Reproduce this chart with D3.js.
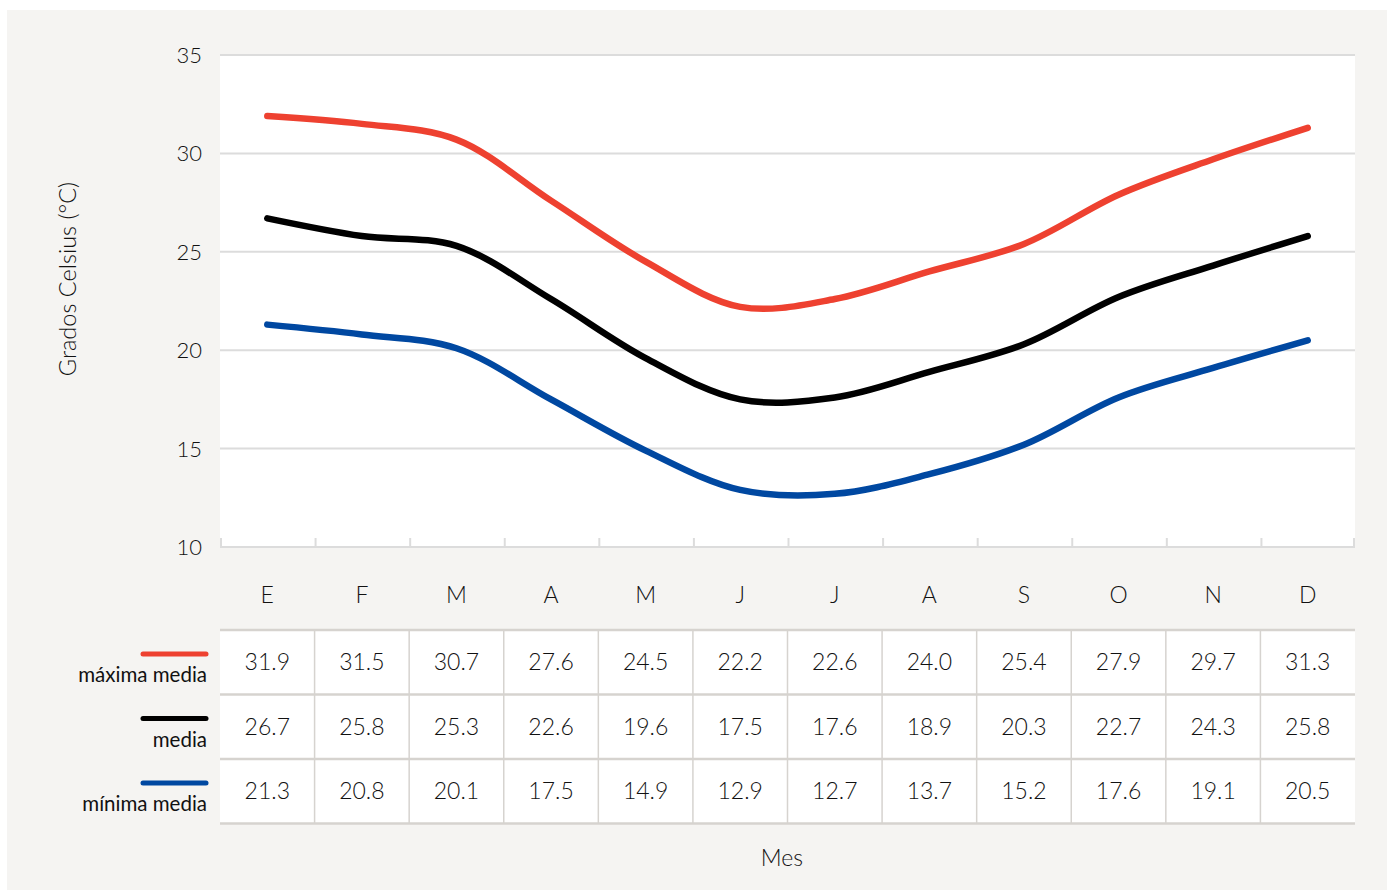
<!DOCTYPE html>
<html>
<head>
<meta charset="utf-8">
<script src="https://cdn.jsdelivr.net/npm/d3@7"></script>
<style>
  body { margin: 0; background: #fff; }
  svg { display: block; font-family: "Lato", "Noto Sans", sans-serif; }
</style>
</head>
<body>
<div id="chart"></div>
<script>
'use strict';

// Data
var months = ['E', 'F', 'M', 'A', 'M', 'J', 'J', 'A', 'S', 'O', 'N', 'D'];
var maxima = [31.9, 31.5, 30.7, 27.6, 24.5, 22.2, 22.6, 24.0, 25.4, 27.9, 29.7, 31.3];
var media = [26.7, 25.8, 25.3, 22.6, 19.6, 17.5, 17.6, 18.9, 20.3, 22.7, 24.3, 25.8];
var minima = [21.3, 20.8, 20.1, 17.5, 14.9, 12.9, 12.7, 13.7, 15.2, 17.6, 19.1, 20.5];
var seriesNames = ['máxima media', 'media', 'mínima media'];
var yTicks = [10, 15, 20, 25, 30, 35];

var series = [
    { name: seriesNames[0], values: maxima, color: '#ee4130' },
    { name: seriesNames[1], values: media, color: '#000000' },
    { name: seriesNames[2], values: minima, color: '#0048a1' }
];

var W = 1387, H = 890;
var plot = { left: 220, right: 1355, top: 55, bottom: 547 };
var table = { top: 630, rowH: 64.5 };
var textColor = '#111';

var svg = d3.select('#chart').append('svg')
    .attr('width', W)
    .attr('height', H);

//Background panel
svg.append('rect')
    .attr('x', 7).attr('y', 10)
    .attr('width', W - 7).attr('height', H - 10)
    .attr('fill', '#f5f4f2');

svg.append('rect')
    .attr('x', plot.left).attr('y', plot.top)
    .attr('width', plot.right - plot.left).attr('height', plot.bottom - plot.top)
    .attr('fill', '#ffffff');

//Scales
var x = d3.scaleBand()
    .domain(d3.range(months.length))
    .range([plot.left, plot.right]);
var y = d3.scaleLinear()
    .domain([10, 35])
    .range([plot.bottom, plot.top]);

//Grid lines
svg.append('g').selectAll('line')
    .data(yTicks.filter(function(d) { return d > 10; }))
    .enter().append('line')
    .attr('x1', plot.left).attr('x2', plot.right)
    .attr('y1', y).attr('y2', y)
    .attr('stroke', '#dcdcdc')
    .attr('stroke-width', 2);

//Y axis labels
svg.append('g').selectAll('text')
    .data(yTicks)
    .enter().append('text')
    .attr('x', 202)
    .attr('y', function(d) { return y(d) + 8; })
    .attr('text-anchor', 'end')
    .attr('font-size', 22)
    .attr('font-weight', 300)
    .attr('fill', textColor)
    .text(function(d) { return d; });

svg.append('text')
    .attr('transform', 'translate(76,279) rotate(-90)')
    .attr('text-anchor', 'middle')
    .attr('font-size', 23.5)
    .attr('font-weight', 300)
    .attr('fill', textColor)
    .text('Grados Celsius (°C)');

//Bottom axis line with boundary ticks
var bottomAxis = svg.append('g');
bottomAxis.append('line')
    .attr('x1', plot.left).attr('x2', plot.right)
    .attr('y1', plot.bottom).attr('y2', plot.bottom)
    .attr('stroke', '#dcdcdc').attr('stroke-width', 2);
bottomAxis.selectAll('.tick')
    .data(d3.range(months.length + 1))
    .enter().append('line')
    .attr('class', 'tick')
    .attr('x1', function(i) { return i < months.length ? x(i) + 1 : plot.right - 1; })
    .attr('x2', function(i) { return i < months.length ? x(i) + 1 : plot.right - 1; })
    .attr('y1', plot.bottom - 9).attr('y2', plot.bottom)
    .attr('stroke', '#dcdcdc').attr('stroke-width', 2);

//Month labels
svg.append('g').selectAll('text')
    .data(months)
    .enter().append('text')
    .attr('x', function(d, i) { return x(i) + x.bandwidth() / 2; })
    .attr('y', 603)
    .attr('text-anchor', 'middle')
    .attr('font-size', 23)
    .attr('font-weight', 300)
    .attr('fill', textColor)
    .text(function(d) { return d; });

//Lines
var line = d3.line()
    .x(function(d, i) { return x(i) + x.bandwidth() / 2; })
    .y(function(d) { return y(d); })
    .curve(d3.curveCatmullRom.alpha(0.5));

svg.append('g').selectAll('path')
    .data(series)
    .enter().append('path')
    .attr('d', function(d) { return line(d.values); })
    .attr('fill', 'none')
    .attr('stroke', function(d) { return d.color; })
    .attr('stroke-width', 6.5)
    .attr('stroke-linecap', 'round')
    .attr('stroke-linejoin', 'round');

//Data table
var tableG = svg.append('g');
tableG.append('rect')
    .attr('x', plot.left).attr('y', table.top)
    .attr('width', plot.right - plot.left).attr('height', table.rowH * series.length)
    .attr('fill', '#ffffff');

//Vertical separators
tableG.selectAll('.vsep')
    .data(d3.range(1, months.length))
    .enter().append('line')
    .attr('class', 'vsep')
    .attr('x1', function(i) { return x(i); })
    .attr('x2', function(i) { return x(i); })
    .attr('y1', table.top).attr('y2', table.top + table.rowH * series.length)
    .attr('stroke', '#d6d3cf').attr('stroke-width', 1.5);

//Horizontal separators
tableG.selectAll('.hsep')
    .data(d3.range(series.length + 1))
    .enter().append('line')
    .attr('class', 'hsep')
    .attr('x1', plot.left).attr('x2', plot.right)
    .attr('y1', function(i) { return table.top + i * table.rowH; })
    .attr('y2', function(i) { return table.top + i * table.rowH; })
    .attr('stroke', '#d6d3cf').attr('stroke-width', 2.5);

var rows = tableG.selectAll('.row')
    .data(series)
    .enter().append('g')
    .attr('class', 'row')
    .attr('transform', function(d, i) { return 'translate(0,' + (table.top + i * table.rowH) + ')'; });

rows.selectAll('text')
    .data(function(d) { return d.values; })
    .enter().append('text')
    .attr('x', function(d, i) { return x(i) + x.bandwidth() / 2; })
    .attr('y', table.rowH / 2 + 8)
    .attr('text-anchor', 'middle')
    .attr('font-size', 23)
    .attr('font-weight', 300)
    .attr('fill', textColor)
    .text(function(d) { return d.toFixed(1); });

//Legend in row headers
rows.append('line')
    .attr('x1', 143).attr('x2', 206)
    .attr('y1', 24).attr('y2', 24)
    .attr('stroke', function(d) { return d.color; })
    .attr('stroke-width', 5)
    .attr('stroke-linecap', 'round');

rows.append('text')
    .attr('x', 207)
    .attr('y', 52)
    .attr('text-anchor', 'end')
    .attr('font-size', 20.5)
    .attr('fill', '#111')
    .text(function(d) { return d.name; });

//X axis title
svg.append('text')
    .attr('x', 782)
    .attr('y', 866)
    .attr('text-anchor', 'middle')
    .attr('font-size', 23)
    .attr('font-weight', 300)
    .attr('fill', textColor)
    .text('Mes');
</script>
</body>
</html>
